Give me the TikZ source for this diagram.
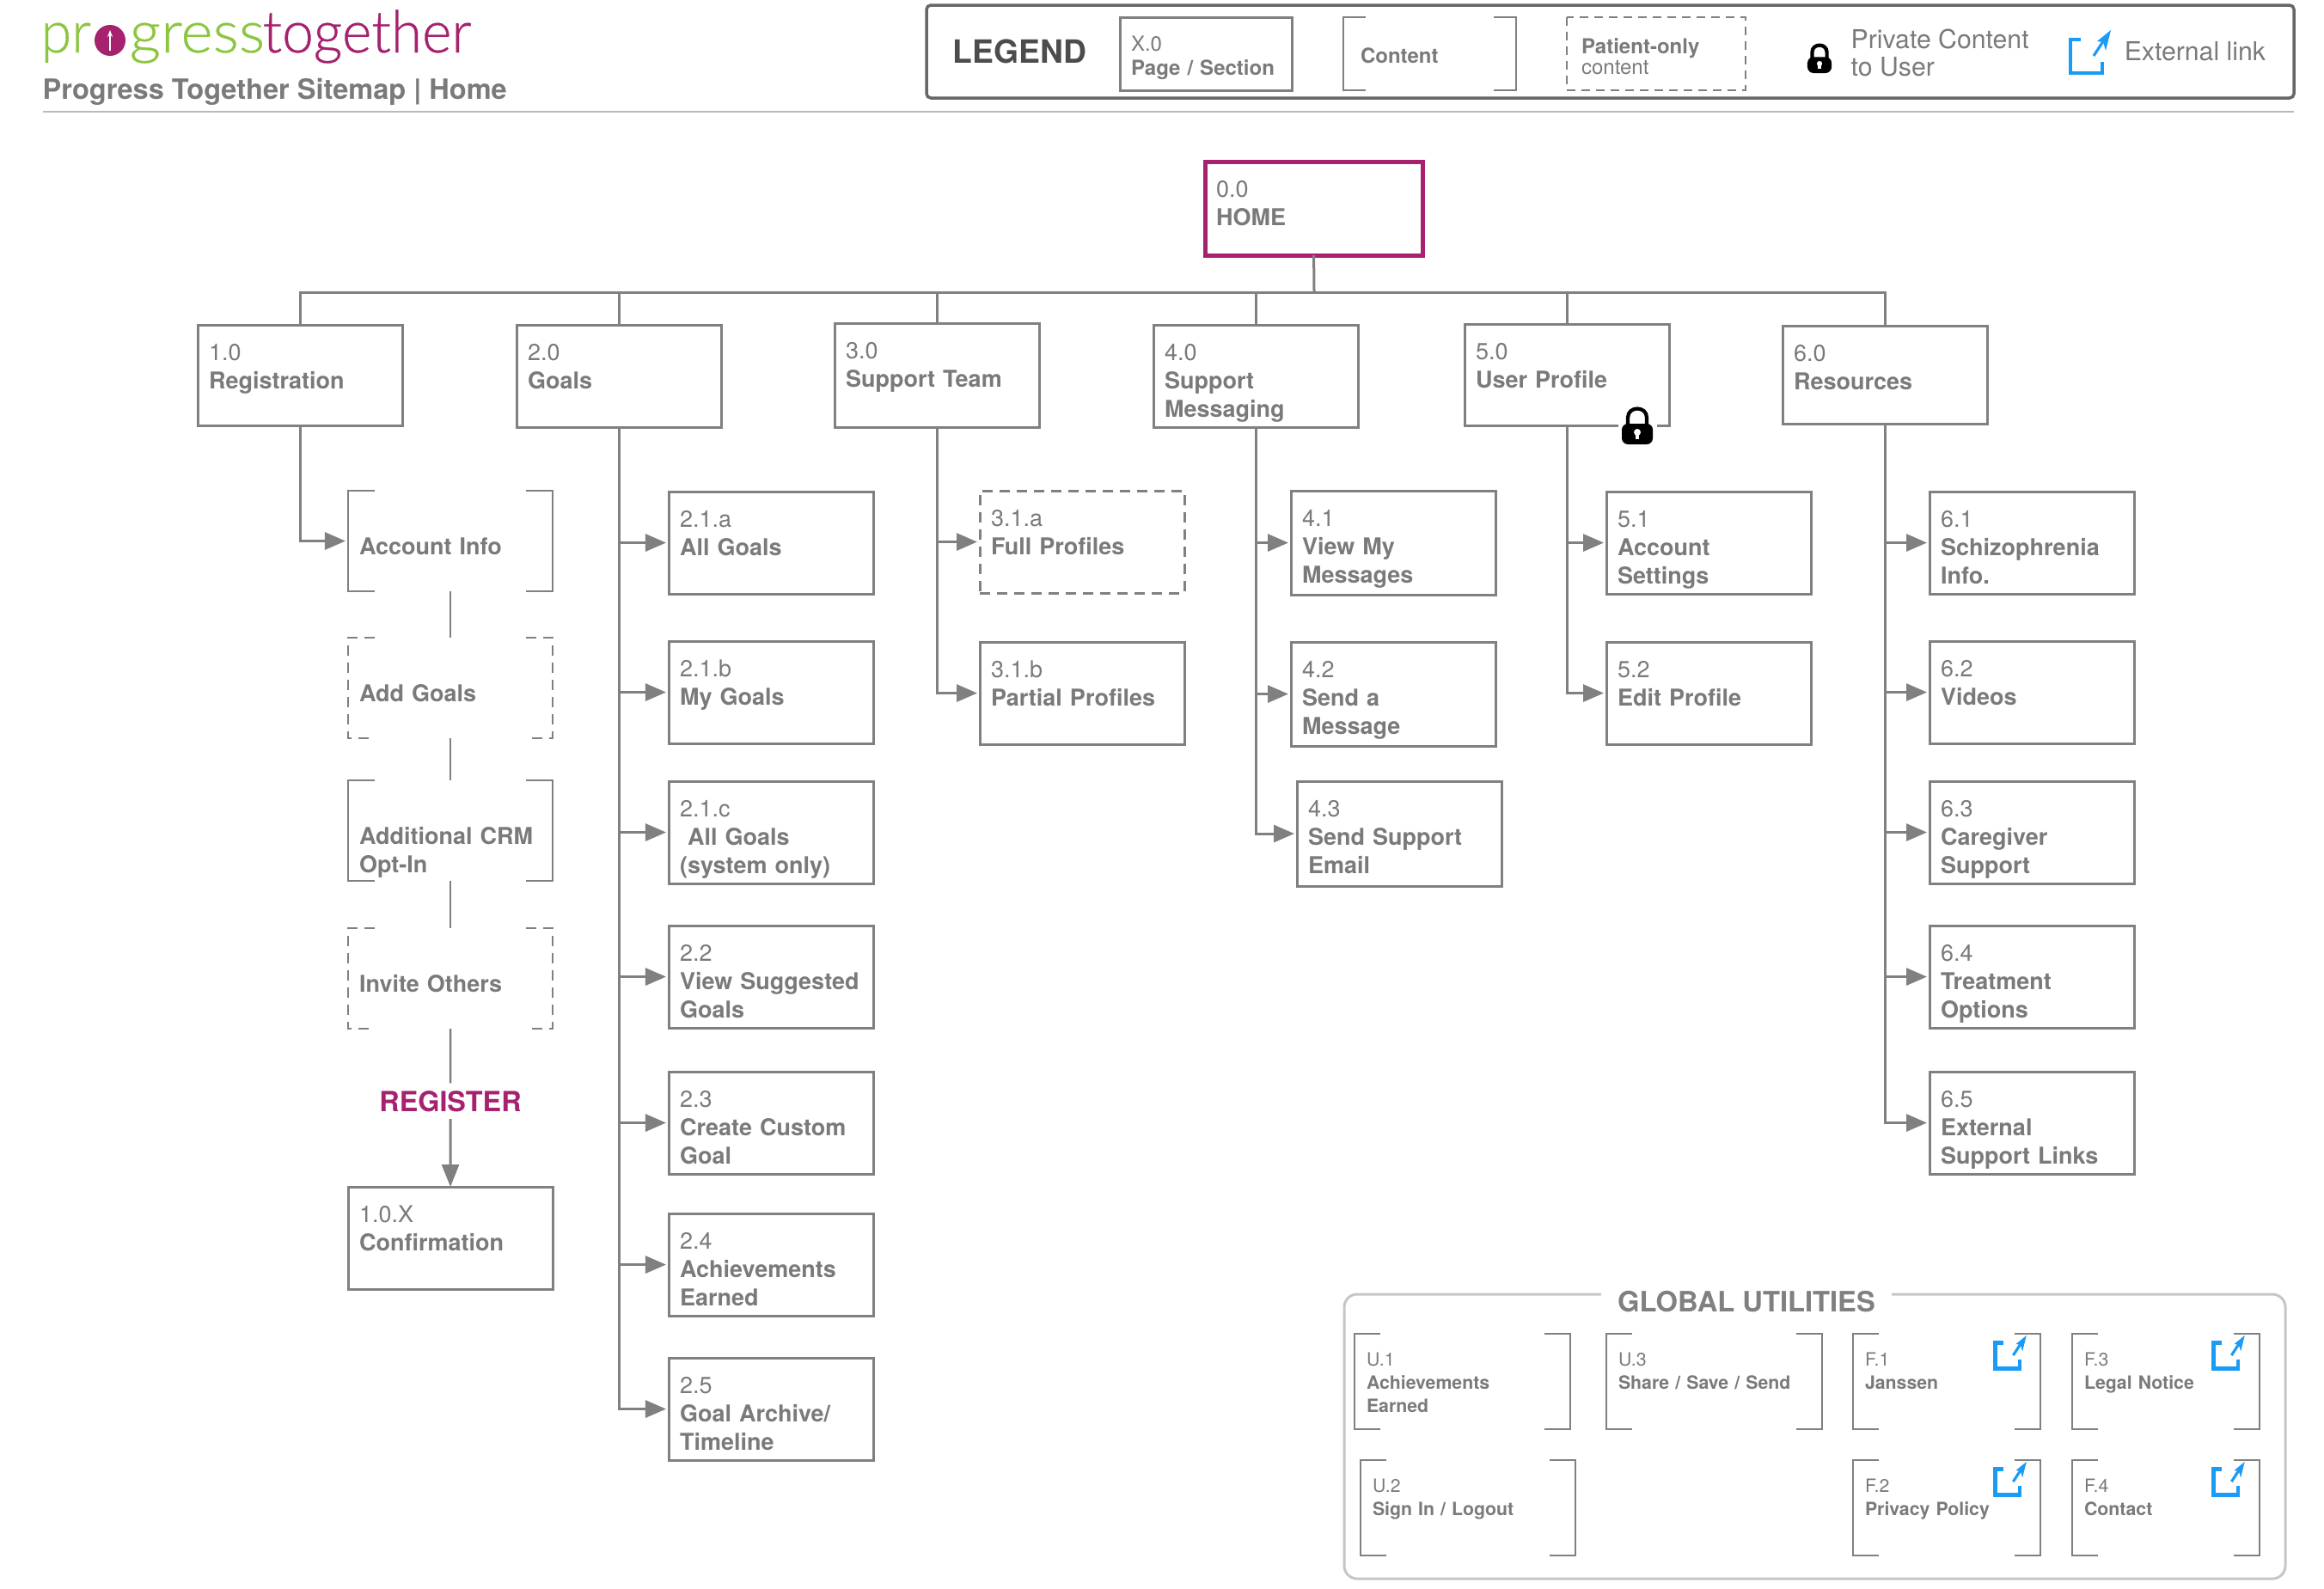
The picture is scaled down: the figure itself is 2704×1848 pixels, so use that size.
\documentclass[tikz,border=0pt]{standalone}
\usepackage{fontspec}
\setmainfont{TeX Gyre Heros}
\newfontfamily\logofont{Lato}[UprightFont=* Light,FakeBold=0.5]
\usetikzlibrary{arrows.meta}
\definecolor{linegray}{HTML}{808080}
\definecolor{textgray}{HTML}{7A7A7A}
\definecolor{plum}{HTML}{A6216E}
\definecolor{leaf}{HTML}{8CC63F}
\definecolor{linkblue}{HTML}{1A9BF5}
\tikzset{
  pagebox/.style={draw=linegray,line width=.03cm,anchor=north west,inner xsep=.13cm,inner ysep=0pt,outer sep=0pt,
    text width=2.12cm,align=left,text=textgray,text height=.41cm,text depth=.78cm,font=\fontsize{7.68}{9.39}\selectfont},
  contentbox/.style={pagebox,draw=none,text height=.74cm,text depth=.43cm},
  utilbox/.style={contentbox,text width=2.2cm,inner xsep=.14cm,text height=.37cm,text depth=.74cm,font=\fontsize{6.05}{7.7}\selectfont},
  legendbox/.style={pagebox,text width=1.74cm,font=\fontsize{6.83}{8.2}\selectfont},
  legendtext/.style={anchor=base west,inner sep=0pt,align=left,text=textgray,font=\fontsize{8.6}{9.1}\selectfont},
  logotext/.style={anchor=base west,inner sep=0pt,font=\logofont\fontsize{19.3}{20}\selectfont},
  link/.style={draw=linegray,line width=.03cm},
  rail/.style={link,-{Triangle[length=.24cm,width=.2cm]},shorten >=.03cm},
  thinlink/.style={link,line width=.025cm},
  lockicon/.pic={
    \fill[black,rounded corners=2] (-18,0) rectangle (18,-24);
    \draw[black,line width=1.2pt] (-11,-22) -- (-11,-31) .. controls (-11,-45) and (11,-45) .. (11,-31) -- (11,-22);
    \fill[white] (0,-14) circle[radius=4];
    \fill[white] (-2,-14) rectangle (2,-6);
  },
  linkicon/.pic={
    \draw[linkblue,line width=1.3pt] (14,-41) -- (2,-41) -- (2,-2) -- (39,-2) -- (39,-15);
    \draw[linkblue,line width=.9pt] (29,-22) -- (42,-42);
    \fill[linkblue] (49,-52) -- (33,-39) -- (40,-38) -- (43,-28) -- cycle;
  }
}
\begin{document}
\begin{tikzpicture}[x=.01cm,y=-.01cm]
\useasboundingbox (0,0) rectangle (2704,1848);
% logo and title
\node[logotext,text=leaf,xscale=.95] (logopr) at (47,61) {pr};
\fill[plum] (128,47) circle[radius=18];
\draw[white,line width=.6pt,-{Stealth[length=.08cm]}] (128,59) -- (128,35);
\node[logotext,text=leaf,xscale=1.05] (logogress) at (150,61) {gress};
\node[logotext,text=plum,xscale=.97] (logotogether) at (305,61) {together};
\node[anchor=base west,inner sep=0pt,text=textgray,font=\bfseries\fontsize{9.25}{10}\selectfont] (title) at (49,115) {Progress Together Sitemap | Home};
\draw[gray!55,line width=.02cm] (50,130) -- (2669,130);
% legend
\draw[linegray!80!black,line width=.035cm,rounded corners=.05cm] (1078,6) rectangle (2669,114);
\node[anchor=base west,inner sep=0pt,text=black!70,font=\bfseries\fontsize{10.6}{12}\selectfont] (legend) at (1108,73) {LEGEND};
\node[legendbox,text height=.39cm,text depth=.46cm] (legpage) at (1303,20) {X.0\\\textbf{Page / Section}};
\node[legendbox,draw=none,text height=.53cm,text depth=.32cm,inner xsep=.2cm] (legcontent) at (1563,20) {\textbf{Content}};
\node[legendbox,draw=none,text height=.42cm,text depth=.43cm,inner xsep=.17cm] (legpatient) at (1823,20) {\textbf{Patient-only}\\[-.48mm]content};
\draw[thinlink,dash pattern=on .1cm off .07cm] (1823,20) rectangle (2031,105);
\draw[thinlink] (1589,20) -- (1563,20) -- (1563,105) -- (1589,105);
\draw[thinlink] (1738,20) -- (1764,20) -- (1764,105) -- (1738,105);
\pic[scale=.78] at (2117,85) {lockicon};
\node[legendtext] (legprivate) at (2153,88) {Private Content\\to User};
\pic at (2407,87) {linkicon};
\node[legendtext] (leglink) at (2471,70) {External link};
% home
\node[pagebox,draw=plum,line width=.05cm,text width=2.27cm,text height=.41cm,text depth=.68cm] (home) at (1402,188) {0.0\\\textbf{HOME}};
% top row
\node[pagebox,text depth=.76cm] (p10) at (230,378) {1.0\\\textbf{Registration}};
\node[pagebox] (p20) at (601,378) {2.0\\\textbf{Goals}};
\node[pagebox,text depth=.80cm] (p30) at (971,376) {3.0\\\textbf{Support Team}};
\node[pagebox] (p40) at (1342,378) {4.0\\\textbf{Support\\Messaging}};
\node[pagebox,text depth=.77cm] (p50) at (1704,377) {5.0\\\textbf{User Profile}};
\node[pagebox,text depth=.73cm] (p60) at (2074,379) {6.0\\\textbf{Resources}};
% registration flow
\node[contentbox] (acct) at (405,571) {\textbf{Account Info}};
\node[contentbox] (addgoals) at (405,742) {\textbf{Add Goals}};
\node[contentbox] (crm) at (405,908) {\textbf{Additional CRM\\Opt-In}};
\node[contentbox] (invite) at (405,1080) {\textbf{Invite Others}};
\node[anchor=base,inner xsep=0pt,inner ysep=.08cm,text=plum,font=\bfseries\fontsize{9.2}{10}\selectfont] (register) at (524,1293) {REGISTER};
\node[pagebox] (p10x) at (405,1381) {1.0.X\\\textbf{Confirmation}};
% goals
\node[pagebox] (p21a) at (778,572) {2.1.a\\\textbf{All Goals}};
\node[pagebox] (p21b) at (778,746) {2.1.b\\\textbf{My Goals}};
\node[pagebox] (p21c) at (778,909) {2.1.c\\\textbf{~All Goals\\(system only)}};
\node[pagebox] (p22) at (778,1077) {2.2\\\textbf{View Suggested\\Goals}};
\node[pagebox] (p23) at (778,1247) {2.3\\\textbf{Create Custom\\Goal}};
\node[pagebox] (p24) at (778,1412) {2.4\\\textbf{Achievements\\Earned}};
\node[pagebox] (p25) at (778,1580) {2.5\\\textbf{Goal Archive/\\Timeline}};
% support team
\node[pagebox,dash pattern=on .12cm off .08cm] (p31a) at (1140,571) {3.1.a\\\textbf{Full Profiles}};
\node[pagebox] (p31b) at (1140,747) {3.1.b\\\textbf{Partial Profiles}};
% messaging
\node[pagebox,text depth=.80cm] (p41) at (1502,571) {4.1\\\textbf{View My\\Messages}};
\node[pagebox,text depth=.80cm] (p42) at (1502,747) {4.2\\\textbf{Send a\\Message}};
\node[pagebox,text depth=.81cm] (p43) at (1509,909) {4.3\\\textbf{Send Support\\Email}};
% profile
\node[pagebox] (p51) at (1869,572) {5.1\\\textbf{Account\\Settings}};
\node[pagebox] (p52) at (1869,747) {5.2\\\textbf{Edit Profile}};
% resources
\node[pagebox] (p61) at (2245,572) {6.1\\\textbf{Schizophrenia\\Info.}};
\node[pagebox] (p62) at (2245,746) {6.2\\\textbf{Videos}};
\node[pagebox] (p63) at (2245,909) {6.3\\\textbf{Caregiver\\Support}};
\node[pagebox] (p64) at (2245,1077) {6.4\\\textbf{Treatment\\Options}};
\node[pagebox] (p65) at (2245,1247) {6.5\\\textbf{External\\Support Links}};
% connectors
\coordinate (bus) at (1529,340);
\draw[link] (home.south) -- (bus);
\foreach \n in {p10,p20,p30,p40,p50,p60} \draw[link] (bus) -| (\n.north);
\draw[rail] (p10.south) |- (acct.west);
\foreach \n in {p21a,p21b,p21c,p22,p23,p24,p25} \draw[rail] (p20.south) |- (\n.west);
\foreach \n in {p31a,p31b} \draw[rail] (p30.south) |- (\n.west);
\foreach \n in {p41,p42,p43} \draw[rail] (p40.south) |- (\n.west);
\foreach \n in {p51,p52} \draw[rail] (p50.south) |- (\n.west);
\foreach \n in {p61,p62,p63,p64,p65} \draw[rail] (p60.south) |- (\n.west);
\draw[thinlink] (acct.south) -- (addgoals.north);
\draw[thinlink] (addgoals.south) -- (crm.north);
\draw[thinlink] (crm.south) -- (invite.north);
\draw[thinlink] (invite.south) -- (register.north);
\draw[link,-{Triangle[length=.26cm,width=.2cm]}] (register.south) -- (p10x.north);
% brackets
\foreach \n in {acct,crm} {
  \draw[thinlink] ([xshift=.31cm]\n.north west) -- (\n.north west) -- (\n.south west) -- ([xshift=.31cm]\n.south west);
  \draw[thinlink] ([xshift=-.31cm]\n.north east) -- (\n.north east) -- (\n.south east) -- ([xshift=-.31cm]\n.south east);
}
\foreach \n in {addgoals,invite} {
  \draw[thinlink,dash pattern=on .12cm off .08cm] ([xshift=.31cm]\n.north west) -- (\n.north west) -- (\n.south west) -- ([xshift=.31cm]\n.south west);
  \draw[thinlink,dash pattern=on .12cm off .08cm] ([xshift=-.31cm]\n.north east) -- (\n.north east) -- (\n.south east) -- ([xshift=-.31cm]\n.south east);
}
% lock on user profile
\fill[white] (1883,485) rectangle (1928,505);
\pic at (1905,517) {lockicon};
% global utilities
\draw[gray!45,line width=.03cm,rounded corners=.15cm] (1564,1506) rectangle (2659,1837);
\node[anchor=base,fill=white,inner xsep=.19cm,inner ysep=.04cm,text=linegray,font=\bfseries\fontsize{9.3}{10}\selectfont] (utils) at (2032,1526) {GLOBAL UTILITIES};
\node[utilbox,text width=2.23cm] (u1) at (1576,1552) {U.1\\\textbf{Achievements\\Earned}};
\node[utilbox,text width=2.23cm] (u3) at (1869,1552) {U.3\\\textbf{Share / Save / Send}};
\node[utilbox,text width=1.90cm] (f1) at (2156,1552) {F.1\\\textbf{Janssen}};
\node[utilbox,text width=1.90cm] (f3) at (2411,1552) {F.3\\\textbf{Legal Notice}};
\node[utilbox,text width=2.22cm] (u2) at (1583,1699) {U.2\\\textbf{Sign In / Logout}};
\node[utilbox,text width=1.90cm] (f2) at (2156,1699) {F.2\\\textbf{Privacy Policy}};
\node[utilbox,text width=1.90cm] (f4) at (2411,1699) {F.4\\\textbf{Contact}};
\foreach \n in {u1,u3,u2,f1,f2,f3,f4} {
  \draw[thinlink] ([xshift=.3cm]\n.north west) -- (\n.north west) -- (\n.south west) -- ([xshift=.3cm]\n.south west);
  \draw[thinlink] ([xshift=-.3cm]\n.north east) -- (\n.north east) -- (\n.south east) -- ([xshift=-.3cm]\n.south east);
}
\pic[scale=.77] at (2320,1594) {linkicon};
\pic[scale=.77] at (2574,1594) {linkicon};
\pic[scale=.77] at (2320,1741) {linkicon};
\pic[scale=.77] at (2574,1741) {linkicon};
\end{tikzpicture}
\end{document}
